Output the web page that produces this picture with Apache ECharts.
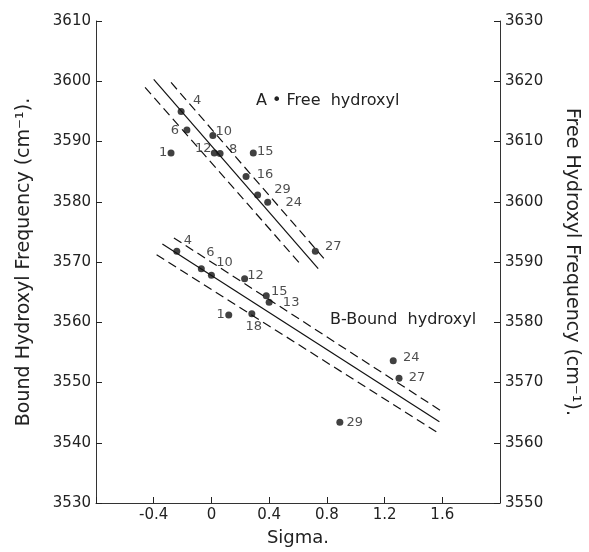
<!DOCTYPE html>
<html>
<head>
<meta charset="utf-8">
<script src="https://cdn.jsdelivr.net/npm/echarts@6/dist/echarts.min.js"></script>
<style>
html,body{margin:0;padding:0;background:#fff;}
#chart{width:589px;height:552px;}
</style>
</head>
<body>
<div id="chart"></div>
<script>
// ---- Data ----
// A: free hydroxyl (right axis, cm-1)
const freeIds   = ['4', '6', '1', '10', '12', '8', '15', '16', '29', '24', '27'];
const freeSigma = [-0.21, -0.17, -0.28, 0.01, 0.02, 0.06, 0.29, 0.24, 0.32, 0.39, 0.72];
const freeFreq  = [3615.0, 3611.9, 3608.1, 3611.0, 3608.1, 3608.0, 3608.1, 3604.2, 3601.1, 3599.9, 3591.8];

// B: bound hydroxyl (left axis, cm-1)
const boundIds   = ['4', '6', '10', '12', '15', '13', '1', '18', '24', '27', '29'];
const boundSigma = [-0.24, -0.07, 0.00, 0.23, 0.38, 0.40, 0.12, 0.28, 1.26, 1.30, 0.89];
const boundFreq  = [3571.8, 3568.9, 3567.8, 3567.2, 3564.4, 3563.3, 3561.2, 3561.4, 3553.6, 3550.7, 3543.4];

// regression lines and confidence bands (end points)
const freeFitX   = [-0.40, 0.74];  const freeFitY   = [3620.3, 3588.9];
const freeUpperX = [-0.28, 0.79];  const freeUpperY = [3619.8, 3590.3];
const freeLowerX = [-0.46, 0.615]; const freeLowerY = [3619.0, 3589.7];
const boundFitX   = [-0.34, 1.58];  const boundFitY   = [3573.0, 3543.5];
const boundUpperX = [-0.26, 1.585]; const boundUpperY = [3574.0, 3545.4];
const boundLowerX = [-0.38, 1.56];  const boundLowerY = [3571.2, 3541.8];

// axis ranges / ticks
const sigmaMin = -0.8, sigmaMax = 2.0, sigmaStep = 0.4;
const boundMin = 3530, boundMax = 3610, freeMin = 3550, freeMax = 3630, freqStep = 10;

// label offsets (style): [dx, dy] of number label centre from point centre
const freeLabelOff  = [[16,-11],[-12,1],[-8,0],[11,-4],[-11,-4],[13,-4],[12,-1],[19,-2],[25,-5],[26,0],[18,-5]];
const boundLabelOff = [[11,-11],[9,-16],[13,-13],[11,-3],[13,-4],[22,0],[-8,0],[2,13],[18,-3],[18,-1],[15,0]];

// ---- Build ----
const FONT = 'DejaVu Sans';
const INK = '#111';
const TXT = '#222';

function pts(xs, ys, ids, offs) {
  return xs.map((x, i) => ({
    value: [x, ys[i]],
    label: { show: true, formatter: ids[i], position: 'inside', offset: offs[i],
             color: TXT, fontFamily: FONT, fontSize: 13 }
  }));
}
function line(xs, ys) { return xs.map((x, i) => [x, ys[i]]); }

function lineSeries(xs, ys, yIdx, dashed) {
  return {
    type: 'line', yAxisIndex: yIdx, data: line(xs, ys), symbol: 'none', silent: true,
    lineStyle: { color: INK, width: 1.2, type: dashed ? [9, 5] : 'solid' }, z: 2
  };
}

const chart = echarts.init(document.getElementById('chart'), null, { renderer: 'canvas' });

const fmtSigma = v => {
  const r = Math.round(v * 10) / 10;
  if (r <= sigmaMin + 1e-9 || r >= sigmaMax - 1e-9) return '';
  return r === 0 ? '0' : r.toFixed(1);
};

const yAxisCommon = {
  type: 'value', interval: freqStep, nameLocation: 'middle',
  axisLine: { show: true, onZero: false, lineStyle: { color: '#333', width: 1 } },
  axisTick: { show: true, inside: true, length: 6, lineStyle: { color: '#222' } },
  splitLine: { show: false },
  axisLabel: { color: TXT, fontFamily: FONT, fontSize: 15, margin: 5, showMinLabel: true, showMaxLabel: true,
               formatter: v => String(Math.round(v)) },
  nameTextStyle: { color: TXT, fontFamily: FONT, fontSize: 19 },
  nameGap: 62
};

chart.setOption({
  animation: false,
  backgroundColor: '#fff',
  grid: { left: 96, right: 81, top: 21, bottom: 48, containLabel: false },
  xAxis: {
    type: 'value', min: sigmaMin, max: sigmaMax, interval: sigmaStep,
    name: 'Sigma.', nameLocation: 'middle', nameGap: 26,
    nameTextStyle: { color: TXT, fontFamily: FONT, fontSize: 18 },
    axisLine: { show: true, onZero: false, lineStyle: { color: '#333', width: 1 } },
    axisTick: { show: true, inside: true, length: 6, lineStyle: { color: '#222' } },
    splitLine: { show: false },
    axisLabel: { color: TXT, fontFamily: FONT, fontSize: 15, margin: 5, formatter: fmtSigma }
  },
  yAxis: [
    Object.assign({}, yAxisCommon, {
      position: 'left', min: boundMin, max: boundMax,
      name: 'Bound Hydroxyl Frequency (cm\u207B\u00B9).', nameRotate: 90
    }),
    Object.assign({}, yAxisCommon, {
      position: 'right', min: freeMin, max: freeMax,
      name: 'Free Hydroxyl Frequency (cm\u207B\u00B9).', nameRotate: -90
    })
  ],
  series: [
    lineSeries(freeFitX, freeFitY, 1, false),
    lineSeries(freeUpperX, freeUpperY, 1, true),
    lineSeries(freeLowerX, freeLowerY, 1, true),
    lineSeries(boundFitX, boundFitY, 0, false),
    lineSeries(boundUpperX, boundUpperY, 0, true),
    lineSeries(boundLowerX, boundLowerY, 0, true),
    {
      name: 'A - Free hydroxyl', type: 'scatter', yAxisIndex: 1, symbol: 'circle', symbolSize: 7,
      itemStyle: { color: INK }, data: pts(freeSigma, freeFreq, freeIds, freeLabelOff), z: 3
    },
    {
      name: 'B - Bound hydroxyl', type: 'scatter', yAxisIndex: 0, symbol: 'circle', symbolSize: 7,
      itemStyle: { color: INK }, data: pts(boundSigma, boundFreq, boundIds, boundLabelOff), z: 3
    }
  ],
  graphic: [
    { type: 'text', left: 256, top: 93,
      style: { text: 'A \u2022 Free  hydroxyl', fill: TXT, font: '16px "DejaVu Sans"' } },
    { type: 'text', left: 330, top: 312,
      style: { text: 'B-Bound  hydroxyl', fill: TXT, font: '16px "DejaVu Sans"' } }
  ]
});
</script>
</body>
</html>
